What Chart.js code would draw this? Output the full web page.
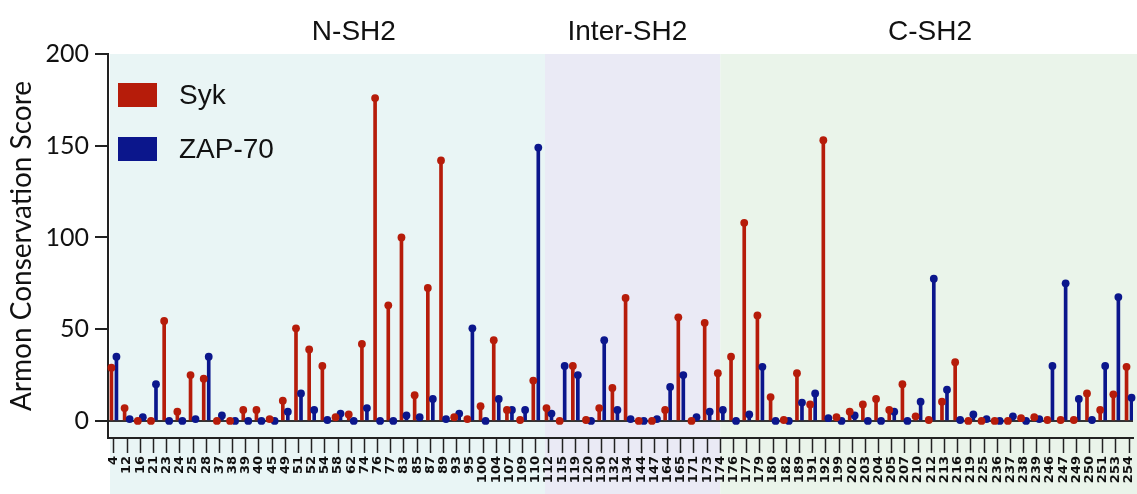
<!DOCTYPE html>
<html>
<head>
<meta charset="utf-8">
<script src="https://cdn.jsdelivr.net/npm/chart.js@4.4.1/dist/chart.umd.min.js"></script>
<style>
  html, body { margin: 0; padding: 0; background: #fff; }
  #wrap { width: 1137px; height: 494px; position: relative; }
</style>
</head>
<body>
<div id="wrap"><canvas id="chart" width="1137" height="494"></canvas></div>
<script>
// residue numbers on the x axis
const residues = [4, 12, 16, 21, 23, 24, 25, 28, 37, 38, 39, 40, 45, 49, 51, 52, 54, 58, 62,
  74, 76, 77, 83, 85, 87, 89, 93, 95, 100, 104, 107, 109, 110, 112, 115, 119, 120, 130,
  132, 134, 144, 147, 164, 165, 171, 173, 174, 176, 177, 179, 180, 182, 189, 191, 192,
  199, 202, 203, 204, 205, 207, 210, 212, 213, 216, 219, 225, 236, 237, 238, 239, 246,
  247, 249, 250, 251, 253, 254];

// Armon conservation score, Syk
const syk = [29, 7, 0, 0, 54.5, 5, 25, 23, 0, 0, 6, 6, 1, 11, 50.5, 39, 30, 2, 3.5,
  42, 176, 63, 100, 14, 72.5, 142, 2, 1, 8, 44, 6, 0.5, 22, 7, 0, 30, 0.5, 7,
  18, 67, 0, 0, 6, 56.5, 0, 53.5, 26, 35, 108, 57.5, 13, 0.5, 26, 9, 153,
  2, 5, 9, 12, 6, 20, 2.5, 0.5, 10.5, 32, 0, 0, 0, 0, 1.5, 2, 0.5,
  0.5, 0.5, 15, 6, 14.5, 29.5];

// Armon conservation score, ZAP-70
const zap = [35, 1, 2, 20, 0, 0, 1, 35, 3, 0, 0, 0, 0, 5, 15, 6, 0.5, 4, 0,
  7, 0, 0, 3, 2, 12, 1, 4, 50.5, 0, 12, 6, 6, 149, 4, 30, 25, 0, 44,
  6, 1, 0, 1, 18.5, 25, 2, 5, 6, 0, 3.5, 29.5, 0, 0, 10, 15, 1.5,
  0, 3, 0, 0, 5, 0, 10.5, 77.5, 17, 0.5, 3.5, 1, 0, 2.5, 0, 1, 30,
  75, 12, 0.5, 30, 67.5, 12.7];

const yTicks = [0, 50, 100, 150, 200];

// domain bands (in x index units)
const domains = [
  { name: 'N-SH2',     from: -0.45, to: 32.7, label: 18.2,  color: '#e9f5f5' },
  { name: 'Inter-SH2', from: 32.7,  to: 46,   label: 38.95, color: '#eaeaf5' },
  { name: 'C-SH2',     from: 46,    to: 78,   label: 61.9,  color: '#eaf4ea' },
];

const C = {
  red:  '#b61c0a',
  blue: '#0b168c',
  axis: '#222222',
};

const shift = 0.19;
const pts = (arr, dx) => arr.map((v, i) => ({ x: i + dx, y: v }));

// background bands, domain names and legend
const decor = {
  id: 'decor',
  beforeDraw(chart) {
    const { ctx, chartArea, scales: { x } } = chart;
    ctx.save();
    domains.forEach(d => {
      const x0 = Math.max(x.getPixelForValue(d.from), chartArea.left + 2);
      const x1 = Math.min(x.getPixelForValue(d.to), chart.width);
      ctx.fillStyle = d.color;
      ctx.fillRect(x0, chartArea.top, x1 - x0, chart.height - chartArea.top);
    });
    ctx.fillStyle = '#111';
    ctx.font = '28px "Liberation Sans", Arial, sans-serif';
    ctx.textAlign = 'center';
    ctx.textBaseline = 'middle';
    domains.forEach(d => ctx.fillText(d.name, x.getPixelForValue(d.label), 32));
    ctx.restore();
  },
  afterDraw(chart) {
    const { ctx } = chart;
    ctx.save();
    ctx.font = '28px "Liberation Sans", Arial, sans-serif';
    ctx.textBaseline = 'middle';
    [['Syk', C.red, 95], ['ZAP-70', C.blue, 149]].forEach(([t, col, cy]) => {
      ctx.fillStyle = col;
      ctx.fillRect(118, cy - 12, 39, 24);
      ctx.fillStyle = '#111';
      ctx.fillText(t, 179, cy + 1);
    });
    ctx.restore();
  }
};

new Chart(document.getElementById('chart'), {
  type: 'bar',
  data: {
    datasets: [
      { type: 'line', label: 'Syk', data: pts(syk, -shift), showLine: false, clip: false,
        pointRadius: 3.9, pointBackgroundColor: C.red, pointBorderWidth: 0, order: 0 },
      { type: 'line', label: 'ZAP-70', data: pts(zap, shift), showLine: false, clip: false,
        pointRadius: 3.9, pointBackgroundColor: C.blue, pointBorderWidth: 0, order: 0 },
      { label: 'Syk stem', data: pts(syk, -shift), backgroundColor: C.red,
        barThickness: 3, grouped: false, order: 1 },
      { label: 'ZAP-70 stem', data: pts(zap, shift), backgroundColor: C.blue,
        barThickness: 3, grouped: false, order: 1 },
    ]
  },
  options: {
    responsive: false,
    animation: false,
    layout: { padding: { top: 54, left: 0, right: 0, bottom: 0 } },
    plugins: { legend: { display: false }, tooltip: { enabled: false } },
    scales: {
      x: {
        type: 'linear', min: -0.45, max: 77.3, offset: false,
        afterFit: s => { s.height = 56; s.paddingLeft = 0; s.paddingRight = 0; },
        afterBuildTicks: s => { s.ticks = residues.map((_, i) => ({ value: i })); },
        grid: { offset: false, drawOnChartArea: false, tickLength: 15, tickColor: C.axis, tickWidth: 1.5 },
        border: { color: C.axis, width: 2 },
        ticks: {
          autoSkip: false, minRotation: 90, maxRotation: 90, padding: 3,
          color: '#111', font: { family: '"DejaVu Sans"', size: 13, weight: 'bold' },
          callback: v => residues[v]
        }
      },
      y: {
        min: -9.3, max: 200,
        afterFit: s => { s.width = 108; s.paddingTop = 0; s.paddingBottom = 0; },
        afterBuildTicks: s => { s.ticks = yTicks.map(v => ({ value: v })); },
        grid: {
          color: c => c.tick && c.tick.value === 0 ? '#333' : 'transparent',
          lineWidth: 2, tickLength: 13, tickColor: C.axis, tickWidth: 2
        },
        border: { color: C.axis, width: 2 },
        ticks: { padding: 6, color: '#111', font: { family: 'Lato', size: 25 } },
        title: {
          display: true, text: 'Armon Conservation Score', color: '#111',
          font: { family: 'Lato', size: 28 }, padding: { top: 5, bottom: 0 }
        }
      }
    }
  },
  plugins: [decor]
});
</script>
</body>
</html>
